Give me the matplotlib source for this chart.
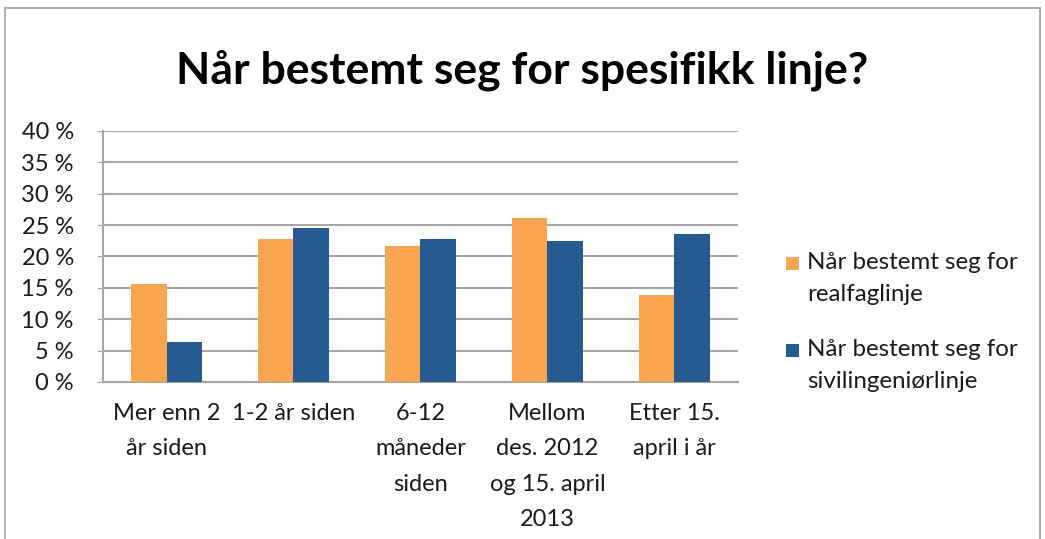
import numpy as np
import matplotlib.pyplot as plt
from matplotlib.patches import Rectangle
from matplotlib.ticker import FuncFormatter

# ------------- data -------------
categories = ["Mer enn 2\når siden", "1-2 år siden", "6-12\nmåneder\nsiden",
              "Mellom\ndes. 2012\nog 15. april\n2013", "Etter 15.\napril i år"]
realfag = [15.6, 22.8, 21.6, 26.1, 13.8]
siving = [6.4, 24.6, 22.8, 22.4, 23.6]
series_names = ["Når bestemt seg for\nrealfaglinje", "Når bestemt seg for\nsivilingeniørlinje"]
yticks = [0, 5, 10, 15, 20, 25, 30, 35, 40]

# ------------- style -------------
plt.rcParams["font.family"] = ["Lato", "DejaVu Sans"]
orange = "#F9A54F"
blue = "#265B92"
grid_col = "#A6A6A6"
txt = "#1a1a1a"
fs = 17

fig = plt.figure(figsize=(10.45, 5.39), dpi=100)
ax = fig.add_axes([0.0986, 0.2913, 0.6074, 0.4657])

x = np.arange(len(categories))
w = 0.28
ax.bar(x - w / 2, realfag, w, color=orange, zorder=3)
ax.bar(x + w / 2, siving, w, color=blue, zorder=3)

ax.set_ylim(0, 40)
ax.set_xlim(-0.5, len(categories) - 0.5)
ax.set_yticks(yticks)
ax.yaxis.set_major_formatter(FuncFormatter(lambda v, p: f"{int(v)} %"))
ax.set_xticks(x)
ax.set_xticklabels(categories, fontsize=fs, color=txt, linespacing=1.85)
ax.tick_params(axis="x", length=0, pad=15)
ax.tick_params(axis="y", length=4, color=grid_col, labelsize=fs, labelcolor=txt, pad=17)
ax.yaxis.grid(True, color=grid_col, linewidth=1.5, zorder=0)
ax.set_axisbelow(True)
for s in ["top", "right"]:
    ax.spines[s].set_visible(False)
for s in ["left", "bottom"]:
    ax.spines[s].set_color(grid_col)
    ax.spines[s].set_linewidth(1.5)

fig.text(0.5, 0.87, "Når bestemt seg for spesifikk linje?", ha="center", va="center",
         fontsize=32, fontweight="bold", color="black")

# legend drawn by hand: square next to the first line of each entry
W, H = 1045, 539
for i, (name, col) in enumerate(zip(series_names, [orange, blue])):
    y0 = 263 + i * 87
    fig.patches.append(Rectangle((786 / W, 1 - (y0 + 6.5) / H), 13 / W, 13 / H,
                                 transform=fig.transFigure, facecolor=col, edgecolor="none"))
    fig.text(807 / W, 1 - (y0 - 11) / H, name, ha="left", va="top", fontsize=17.4,
             color=txt, linespacing=1.63)

# outer frame of the chart area
fig.patches.append(Rectangle((0.005, -0.05), 0.99, 1.035, transform=fig.transFigure,
                             fill=False, edgecolor="#B0B0B0", linewidth=1.5))

fig.savefig("out.png", dpi=100)
